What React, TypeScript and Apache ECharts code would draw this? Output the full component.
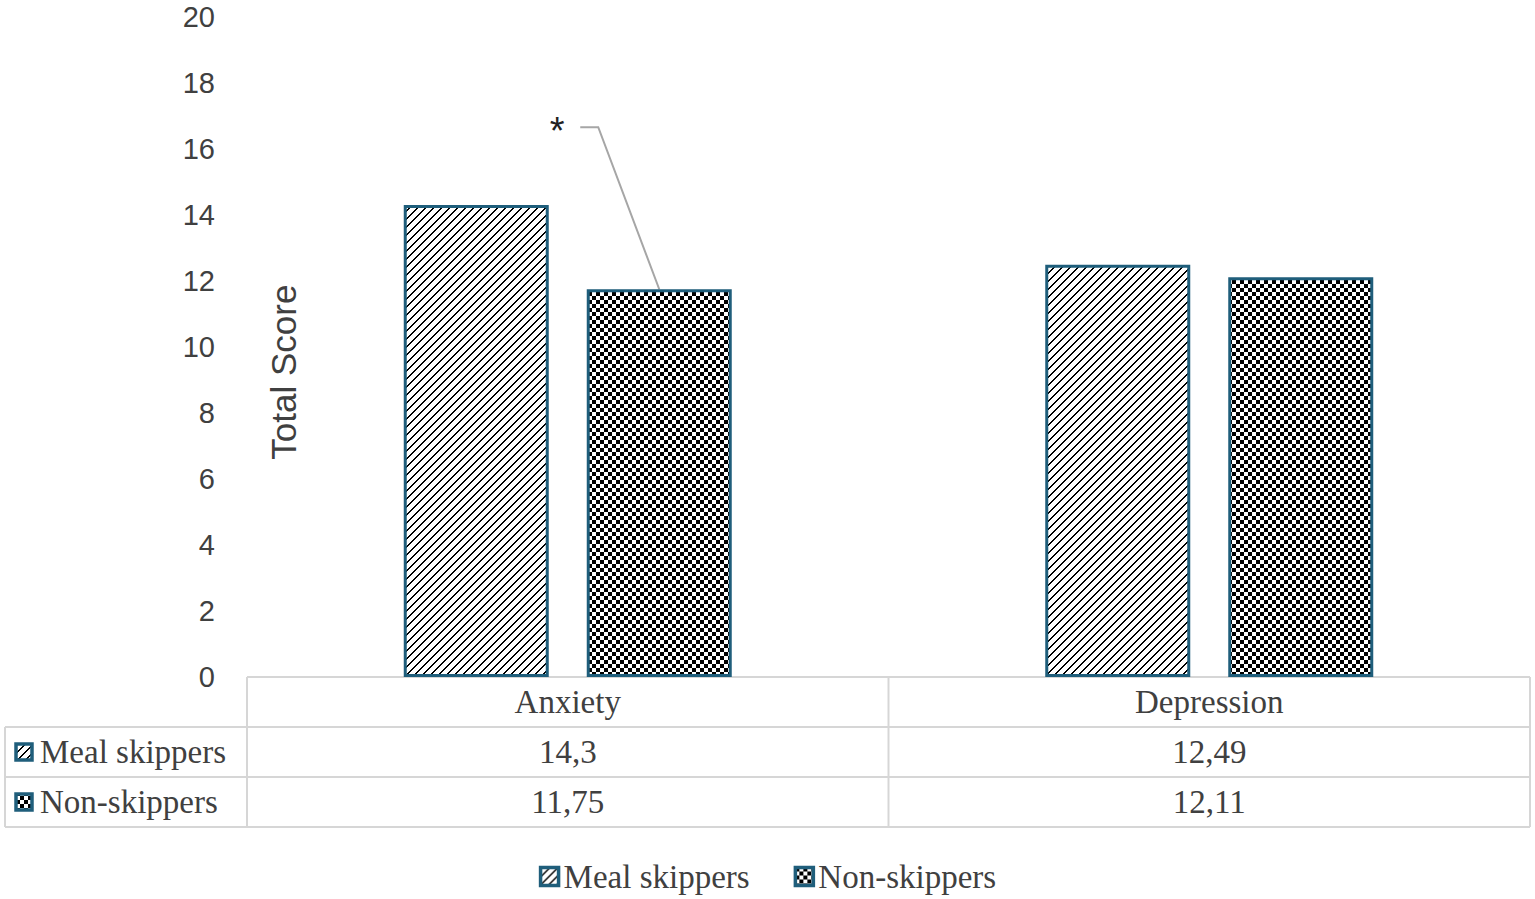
import React, { useEffect, useRef } from "react";
import * as echarts from "echarts";

const categories = ["Anxiety", "Depression"];
const seriesNames = ["Meal skippers", "Non-skippers"];
const mealSkippers = [14.3, 12.49];
const nonSkippers = [11.75, 12.11];
const yMin = 0;
const yMax = 20;
const yInterval = 2;

const W = 1535;
const H = 899;
const GRID_LEFT = 247;
const GRID_RIGHT = 5;
const GRID_TOP = 17;
const GRID_BOTTOM = 222;
const BORDER = "#1f5e7b";
const TEXT = "#404040";
const LINE = "#d6d6d6";
const SERIF = "'Liberation Serif', 'Times New Roman', serif";
const SANS = "'Liberation Sans', Arial, sans-serif";

function makeStripe(): string {
  const n = 8;
  const c = document.createElement("canvas");
  c.width = n;
  c.height = n;
  const ctx = c.getContext("2d")!;
  ctx.fillStyle = "#fff";
  ctx.fillRect(0, 0, n, n);
  ctx.fillStyle = "#000";
  for (let x = 0; x < n; x++)
    for (let y = 0; y < n; y++) {
      const m = (x + y) % n;
      if (m === 0 || m === 1) ctx.fillRect(x, y, 1, 1);
    }
  return c.toDataURL();
}

function makeChecker(): string {
  const s = 4;
  const c = document.createElement("canvas");
  c.width = s * 2;
  c.height = s * 2;
  const ctx = c.getContext("2d")!;
  ctx.fillStyle = "#fff";
  ctx.fillRect(0, 0, s * 2, s * 2);
  ctx.fillStyle = "#000";
  ctx.fillRect(0, 0, s, s);
  ctx.fillRect(s, s, s, s);
  return c.toDataURL();
}

const fmt = (v: number) => String(v).replace(".", ",");

export default function App() {
  const ref = useRef<HTMLDivElement>(null);
  useEffect(() => {
    if (!ref.current) return;
    const chart = echarts.init(ref.current, null, { renderer: "svg" });
    const stripe = { image: makeStripe(), repeat: "repeat", imageWidth: 8, imageHeight: 8 } as any;
    const checker = { image: makeChecker(), repeat: "repeat", imageWidth: 8, imageHeight: 8 } as any;
    const fills = [stripe, checker];
    const dataRows = [mealSkippers, nonSkippers];

    const plotW = W - GRID_LEFT - GRID_RIGHT;
    const plotH = H - GRID_TOP - GRID_BOTTOM;
    const axisY = GRID_TOP + plotH;
    const band = plotW / categories.length;
    const rowH = 50;
    const tableLeft = 5;
    const right = W - GRID_RIGHT;
    const barWidth = 145;
    const barGapPx = 38;

    const g: any[] = [];
    const hline = (x1: number, x2: number, y: number) =>
      g.push({ type: "line", shape: { x1, y1: y, x2, y2: y }, style: { stroke: LINE, lineWidth: 2 }, silent: true });
    const vline = (x: number, y1: number, y2: number) =>
      g.push({ type: "line", shape: { x1: x, y1, x2: x, y2 }, style: { stroke: LINE, lineWidth: 2 }, silent: true });

    const tableBottom = axisY + rowH * (dataRows.length + 1);
    hline(GRID_LEFT, right, axisY);
    for (let r = 1; r <= dataRows.length + 1; r++) hline(tableLeft, right, axisY + rowH * r);
    vline(tableLeft, axisY + rowH, tableBottom);
    for (let c = 0; c <= categories.length; c++) vline(GRID_LEFT + band * c, axisY, tableBottom);

    categories.forEach((cat, ci) => {
      const cx = GRID_LEFT + band * (ci + 0.5);
      g.push({ type: "text", x: cx, y: axisY + rowH / 2, style: { text: cat, fill: TEXT, font: `33px ${SERIF}`, align: "center", verticalAlign: "middle" }, silent: true });
      dataRows.forEach((row, ri) => {
        g.push({ type: "text", x: cx, y: axisY + rowH * (ri + 1.5), style: { text: fmt(row[ci]), fill: TEXT, font: `33px ${SERIF}`, align: "center", verticalAlign: "middle" }, silent: true });
      });
    });
    seriesNames.forEach((name, ri) => {
      const cy = axisY + rowH * (ri + 1.5);
      g.push({ type: "rect", shape: { x: 16, y: cy - 8, width: 16, height: 16 }, style: { fill: fills[ri], stroke: BORDER, lineWidth: 3.5 }, silent: true });
      g.push({ type: "text", x: 40, y: cy, style: { text: name, fill: TEXT, font: `33px ${SERIF}`, align: "left", verticalAlign: "middle" }, silent: true });
    });

    // y axis name
    g.push({ type: "text", x: 283, y: GRID_TOP + plotH * 0.538, rotation: Math.PI / 2, style: { text: "Total Score", fill: TEXT, font: `35px ${SANS}`, align: "center", verticalAlign: "middle" }, silent: true });

    // significance annotation on Anxiety non-skippers bar
    const barCx = GRID_LEFT + band * 0.5 + barGapPx / 2 + barWidth / 2;
    const barTop = GRID_TOP + plotH * (1 - (nonSkippers[0] - yMin) / (yMax - yMin));
    const elbowY = barTop - 162;
    g.push({ type: "polyline", shape: { points: [[barCx - 79, elbowY], [barCx - 61, elbowY], [barCx, barTop]] }, style: { stroke: "#a6a6a6", lineWidth: 2, fill: null }, silent: true });
    g.push({ type: "text", x: barCx - 102, y: elbowY + 4, style: { text: "*", fill: "#222", font: `38px ${SANS}`, align: "center", verticalAlign: "middle" }, silent: true });

    chart.setOption({
      animation: false,
      grid: { left: GRID_LEFT, right: GRID_RIGHT, top: GRID_TOP, bottom: GRID_BOTTOM },
      legend: {
        top: 855,
        left: "center",
        itemWidth: 18,
        itemHeight: 18,
        itemGap: 44,
        icon: "rect",
        itemStyle: { borderColor: BORDER, borderWidth: 3.5 },
        textStyle: { color: TEXT, fontSize: 33, fontFamily: SERIF },
        data: seriesNames,
      },
      xAxis: {
        type: "category",
        data: categories,
        axisLine: { show: false },
        axisTick: { show: false },
        axisLabel: { show: false },
      },
      yAxis: {
        type: "value",
        min: yMin,
        max: yMax,
        interval: yInterval,
        axisLine: { show: false },
        axisTick: { show: false },
        splitLine: { show: false },
        axisLabel: { color: TEXT, fontSize: 29, fontFamily: SANS, margin: 32 },
      },
      series: dataRows.map((row, i) => ({
        name: seriesNames[i],
        type: "bar",
        data: row,
        barWidth,
        barGap: `${(barGapPx / barWidth) * 100}%`,
        itemStyle: { color: fills[i], borderColor: BORDER, borderWidth: 3 },
      })),
      graphic: g,
    });
    return () => chart.dispose();
  }, []);
  return <div ref={ref} style={{ position: "absolute", left: 0, top: 0, width: W, height: H }} />;
}
